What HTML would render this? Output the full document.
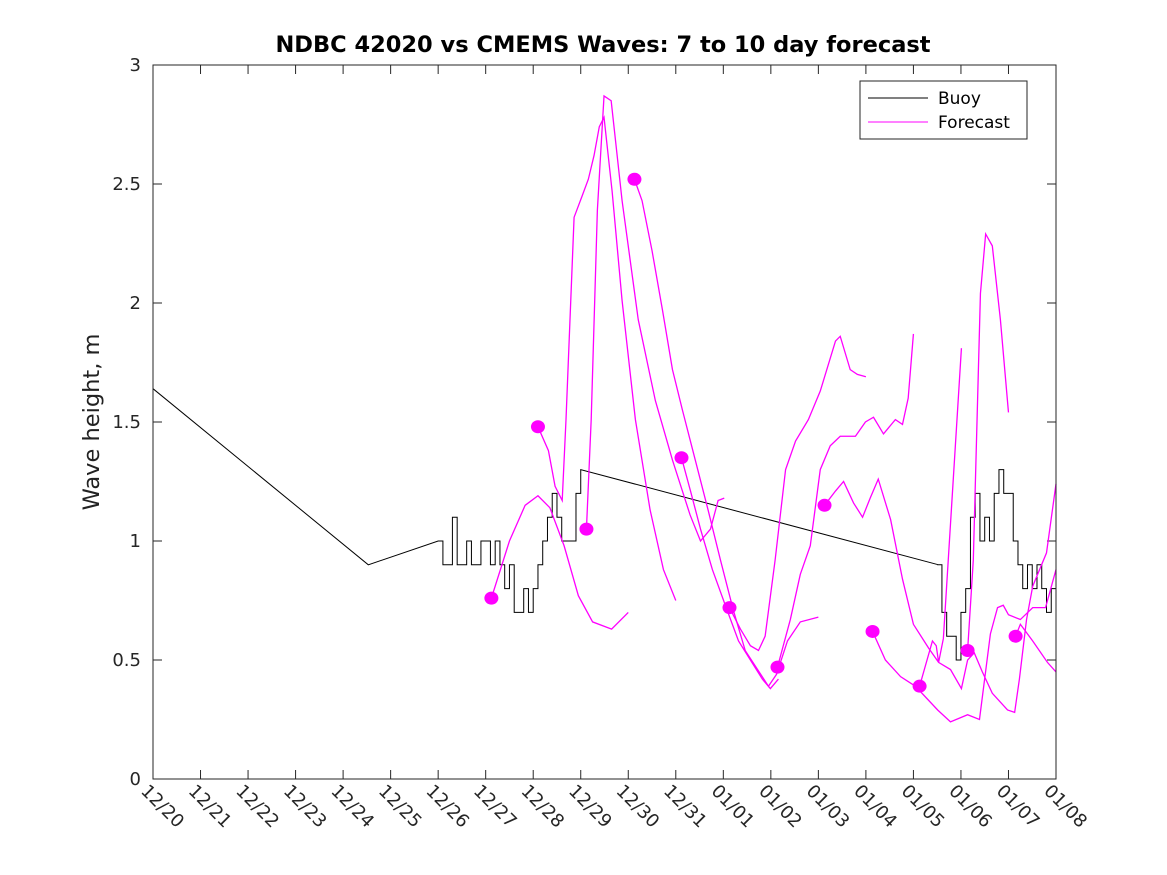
<!DOCTYPE html>
<html><head><meta charset="utf-8"><style>
html,body{margin:0;padding:0;background:#fff}
svg{display:block;font-family:"DejaVu Sans","Liberation Sans",sans-serif}
</style></head><body>
<svg id="chart" width="1167" height="875" viewBox="0 0 1167 875">
<rect x="0" y="0" width="1167" height="875" fill="#fff"/>
<text x="603" y="52" text-anchor="middle" font-size="22.5" font-weight="bold" fill="#000">NDBC 42020 vs CMEMS Waves: 7 to 10 day forecast</text>
<text transform="translate(99,422) rotate(-90)" text-anchor="middle" font-size="22.5" fill="#222">Wave height, m</text>
<g id="ticks"></g>
<g id="plot"></g>
<rect x="153" y="65" width="903" height="714" fill="none" stroke="#262626" stroke-width="1"/>
<g>
<rect x="860" y="81" width="167" height="58" fill="#fff" stroke="#262626" stroke-width="1"/>
<line x1="868" y1="98" x2="928" y2="98" stroke="#000" stroke-width="1"/>
<text x="938" y="104" font-size="17" fill="#000">Buoy</text>
<line x1="868" y1="122" x2="928" y2="122" stroke="#ff00ff" stroke-width="1"/>
<text x="938" y="128" font-size="17" fill="#000">Forecast</text>
</g>
</svg>
<script>
const xTickLabels = ["12/20","12/21","12/22","12/23","12/24","12/25","12/26","12/27","12/28","12/29","12/30","12/31","01/01","01/02","01/03","01/04","01/05","01/06","01/07","01/08"];
const yTicks = [0,0.5,1,1.5,2,2.5,3];
const yTickLabels = ["0","0.5","1","1.5","2","2.5","3"];
const buoyStart = [[0,1.64],[4.53,0.9],[6.0,1.0]];
const buoyStep1 = [1.0,0.9,0.9,1.1,0.9,0.9,1.0,0.9,0.9,1.0,1.0,0.9,1.0,0.9,0.8,0.9,0.7,0.7,0.8,0.7,0.8,0.9,1.0,1.1,1.2,1.1,1.0,1.0,1.0,1.2,1.3];
const buoyStep1Start = 6.0;
const buoyMid = [[16.53,0.9]];
const buoyStep2 = [0.9,0.7,0.6,0.6,0.5,0.7,0.8,1.1,1.2,1.0,1.1,1.0,1.2,1.3,1.2,1.2,1.0,0.9,0.8,0.9,0.8,0.9,0.8,0.7,0.8,0.7];
const buoyStep2Start = 16.5;
const fc1227 = [[7.12,.76],[7.5,1.0],[7.83,1.15],[8.1,1.19],[8.35,1.14],[8.65,.98],[8.95,.77],[9.25,.66],[9.65,.63],[10.0,.70]];
const fc1228 = [[8.1,1.48],[8.32,1.38],[8.46,1.23],[8.61,1.17],[8.69,1.51],[8.86,2.36],[9.03,2.45],[9.16,2.52],[9.28,2.62],[9.39,2.74],[9.49,2.78],[9.66,2.47],[9.87,2.01],[10.15,1.51],[10.46,1.13],[10.74,0.88],[11.0,0.75]];
const fc1229 = [[9.12,1.05],[9.22,1.51],[9.35,2.39],[9.49,2.87],[9.64,2.85],[9.87,2.43],[10.21,1.93],[10.57,1.59],[10.93,1.34],[11.3,1.11],[11.52,1.0],[11.73,1.05],[11.89,1.17],[12.02,1.18]];
const fc1230 = [[10.13,2.52],[10.29,2.43],[10.5,2.22],[10.72,1.97],[10.93,1.72],[11.14,1.55],[11.41,1.34],[11.68,1.13],[11.94,0.92],[12.21,0.71],[12.46,0.54],[12.72,0.46],[12.95,0.39],[13.12,0.44],[13.35,0.58],[13.62,0.66],[14.0,0.68]];
const fc1231 = [[11.12,1.35],[11.31,1.21],[11.52,1.05],[11.77,0.88],[12.06,0.72],[12.32,0.58],[12.57,0.5],[12.82,0.42],[12.99,0.38],[13.16,0.42]];
const fc0101 = [[12.13,.72],[12.36,.63],[12.57,.56],[12.74,.54],[12.88,.6],[13.09,.92],[13.31,1.3],[13.52,1.42],[13.79,1.51],[14.04,1.63],[14.36,1.84],[14.46,1.86],[14.67,1.72],[14.82,1.70],[15.0,1.69]];
const fc0102 = [[13.14,.47],[13.41,.67],[13.62,.86],[13.83,.98],[14.04,1.3],[14.25,1.4],[14.46,1.44],[14.78,1.44],[14.99,1.5],[15.16,1.52],[15.37,1.45],[15.62,1.51],[15.77,1.49],[15.89,1.6],[16.0,1.87]];
const fc0103 = [[14.13,1.15],[14.36,1.21],[14.53,1.25],[14.74,1.16],[14.93,1.10],[15.09,1.18],[15.26,1.26],[15.52,1.09],[15.77,.84],[16.0,.65],[16.32,.55],[16.53,.49],[16.78,.46],[17.01,.38],[17.14,.50],[17.28,.53],[17.45,.45],[17.66,.36],[17.98,.29],[18.13,.28],[18.23,.42],[18.38,.67],[18.51,.81],[18.8,.95],[19.0,1.24]];
const fc0104 = [[15.14,.62],[15.41,.5],[15.73,.43],[16.04,.39],[16.51,.29],[16.78,.24],[17.14,.27],[17.39,.25],[17.62,.61],[17.77,.72],[17.89,.73],[18.0,.69],[18.25,.67],[18.51,.72],[18.78,.72],[19.0,.88]];
const fc0105 = [[16.13,.39],[16.4,.58],[16.48,.56],[16.53,.49],[16.63,.59],[17.01,1.81]];
const fc0106 = [[17.14,.54],[17.26,.92],[17.41,2.04],[17.52,2.29],[17.66,2.24],[17.83,1.93],[18.0,1.54]];
const fc0107 = [[18.15,.6],[18.25,.65],[18.51,.58],[18.82,.49],[19.0,.45]];
const forecasts = [fc1227,fc1228,fc1229,fc1230,fc1231,fc0101,fc0102,fc0103,fc0104,fc0105,fc0106,fc0107];

const X0=153, X1=1056, Y0=779, Y1=65, DAYS=19, YMAX=3;
function xs(d){return X0+(X1-X0)*d/DAYS;}
function ys(v){return Y0-(Y0-Y1)*v/YMAX;}
const NS="http://www.w3.org/2000/svg";
const ticks=document.getElementById('ticks');
const plot=document.getElementById('plot');
function mk(tag,attrs,parent){const e=document.createElementNS(NS,tag);for(const k in attrs)e.setAttribute(k,attrs[k]);parent.appendChild(e);return e;}

xTickLabels.forEach((lab,i)=>{
  const x=xs(i);
  const t1=mk('line',{x1:x,y1:Y0,x2:x,y2:Y0-9,stroke:'#262626'},ticks);
  
  
  const t2=mk('line',{x1:x,y1:Y1,x2:x,y2:Y1+9,stroke:'#262626'},ticks);
  
  
  const tx=mk('text',{transform:`translate(${x-13},${Y0+13}) rotate(45)`,'font-size':18,fill:'#262626'},ticks);
  tx.textContent=lab;
  
  
});
yTicks.forEach((v,i)=>{
  const y=ys(v);
  const t1=mk('line',{x1:X0,y1:y,x2:X0+9,y2:y,stroke:'#262626'},ticks);
  
  
  const t2=mk('line',{x1:X1,y1:y,x2:X1-9,y2:y,stroke:'#262626'},ticks);
  
  
  const tx=mk('text',{x:X0-12,y:y+6,'text-anchor':'end','font-size':18,fill:'#262626'},ticks);
  tx.textContent=yTickLabels[i];
  
  
});

let pts=[];
buoyStart.forEach(p=>pts.push([xs(p[0]),ys(p[1])]));
function addSteps(arr,start){arr.forEach((v,i)=>{const d0=start+i*0.1;const d1=d0+0.1;pts.push([xs(d0),ys(v)]);if(i<arr.length-1)pts.push([xs(d1),ys(v)]);});}
addSteps(buoyStep1,buoyStep1Start);
buoyMid.forEach(p=>pts.push([xs(p[0]),ys(p[1])]));
addSteps(buoyStep2,buoyStep2Start);
const bp=mk('polyline',{points:pts.map(p=>p.join(',')).join(' '),fill:'none',stroke:'#000','stroke-width':1},plot);



forecasts.forEach(f=>{
  const pl=mk('polyline',{points:f.map(p=>xs(p[0])+','+ys(p[1])).join(' '),fill:'none',stroke:'#ff00ff','stroke-width':1.3},plot);
  
  
});
forecasts.forEach(f=>{
  const c=mk('ellipse',{cx:xs(f[0][0]),cy:ys(f[0][1]),rx:7,ry:6.5,fill:'#ff00ff'},plot);
  
  
});
</script>
</body></html>
